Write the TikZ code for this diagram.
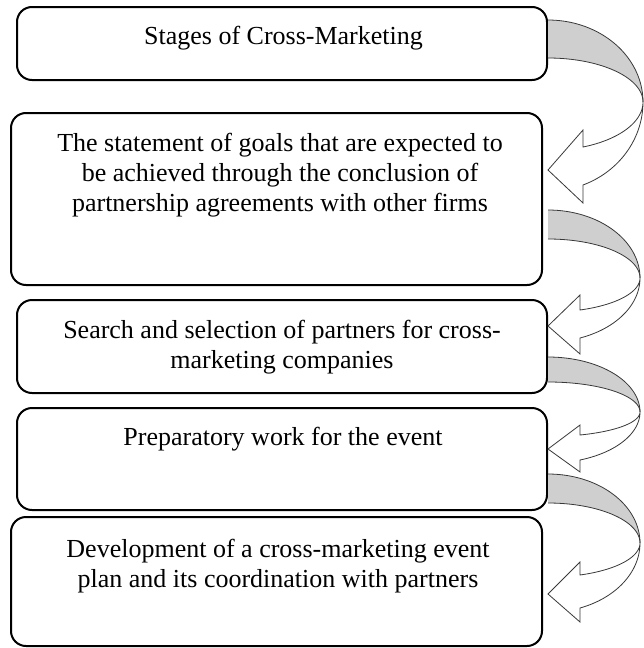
\documentclass[tikz,border=0pt]{standalone}
\usepackage{fontspec}
\setmainfont{Liberation Serif}
\begin{document}
\begin{tikzpicture}[x=1pt,y=-1pt,
  stagebox/.style={draw=black,line width=2pt,rounded corners=15pt,inner sep=0pt,fill=white},
  stagetext/.style={anchor=base,inner sep=0pt,font=\fontsize{26}{30}\selectfont},
  bandfill/.style={fill=black!19},
  bandline/.style={draw=black!78,line width=0.8pt},
  frontarrow/.style={fill=white,draw=black!78,line width=0.8pt,line join=miter}]
\useasboundingbox (0,0) rectangle (644,648);
% boxes
\node[stagebox,minimum width=530pt,minimum height=73pt] (b1) at (282,43.5) {};
\node[stagebox,minimum width=531pt,minimum height=172pt] (b2) at (276.5,199) {};
\node[stagebox,minimum width=530pt,minimum height=93pt] (b3) at (282,346.5) {};
\node[stagebox,minimum width=530pt,minimum height=102pt] (b4) at (282,459) {};
\node[stagebox,minimum width=531pt,minimum height=129pt] (b5) at (276.5,581.5) {};
% texts
\node[stagetext] (t1) at (283.5,44) {\parbox[t]{520pt}{\centering Stages of Cross-Marketing}};
\node[stagetext] (t2) at (280,151) {\parbox[t]{520pt}{\centering The statement of goals that are expected to\\ be achieved through the conclusion of\\ partnership agreements with other firms}};
\node[stagetext] (t3) at (282,338) {\parbox[t]{520pt}{\centering Search and selection of partners for cross-\\ marketing companies}};
\node[stagetext] (t4) at (283,445) {\parbox[t]{520pt}{\centering Preparatory work for the event}};
\node[stagetext] (t5) at (278,557) {\parbox[t]{520pt}{\centering Development of a cross-marketing event\\ plan and its coordination with partners}};
% curved block arrows
\foreach \yO/\yI/\xr/\yc/\xs/\st/\sb/\tp/\bt/\bb in {
  20/58/643/102/583/147/185/170/130/203,
  210/239/640/278/580/310/338/326/295/354,
  357/382/640/412/580/435/460/449/425/472,
  474/503/640/543/580/575/608/594/562/622}{
  \pgfmathsetmacro\rx{\xr-548}
  \pgfmathsetmacro\ta{acos((\xs-548)/\rx)}
  \pgfmathsetmacro\ryU{(\st-\yc)/sin(\ta)}
  \pgfmathsetmacro\ryL{(\sb-\yc)/sin(\ta)}
  \pgfmathsetmacro\ryT{\yc-\yO}
  \pgfmathsetmacro\ryB{\yc-\yI}
  \fill[bandfill] plot[domain=-90:0,samples=40,variable=\t] ({548+\rx*cos(\t)},{\yc+\ryT*sin(\t)})
     -- plot[domain=0:-90,samples=40,variable=\t] ({548+\rx*cos(\t)},{\yc+\ryB*sin(\t)}) -- cycle;
  \draw[bandline] plot[domain=-90:0,samples=40,variable=\t] ({548+\rx*cos(\t)},{\yc+\ryT*sin(\t)});
  \draw[bandline] plot[domain=-90:0,samples=40,variable=\t] ({548+\rx*cos(\t)},{\yc+\ryB*sin(\t)});
  \filldraw[frontarrow] plot[domain=0:\ta,samples=40,variable=\t] ({548+\rx*cos(\t)},{\yc+\ryU*sin(\t)})
     -- (\xs,\bt) -- (548,\tp) -- (\xs,\bb)
     -- plot[domain=\ta:0,samples=40,variable=\t] ({548+\rx*cos(\t)},{\yc+\ryL*sin(\t)}) -- cycle;
}
\end{tikzpicture}
\end{document}
